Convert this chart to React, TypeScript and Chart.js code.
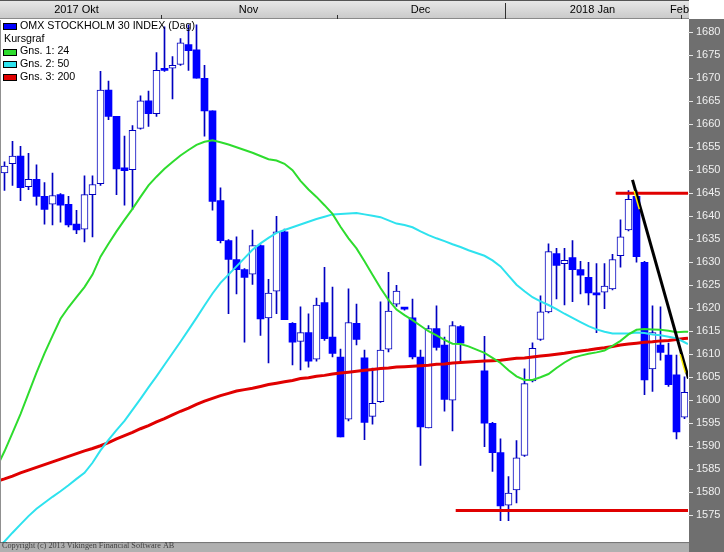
import React, { useEffect, useRef } from "react";
import { Chart, registerables } from "chart.js";

Chart.register(...registerables);

// ---- Data ----
const monthLabels = ["2017 Okt", "Nov", "Dec", "2018 Jan", "Feb"];
const monthBounds = [-1.5, 19.5, 41.5, 62.5, 84.5, 85.5];
const yearBoundary = 62.5;

const opens: (number | null)[] = [
  1649.4, 1651.4, 1653.1, 1646.4, 1648.0, 1644.3, 1642.6, 1644.7, 1642.6, 1638.3,
  1637.2, 1644.7, 1647.1, 1667.4, 1661.7, 1650.5, 1650.1, 1659.1, 1665.1, 1662.3,
  1671.9, 1672.2, 1673.0, 1677.3, 1676.2, 1670.0, 1662.9, 1643.4, 1634.7, 1630.6,
  1628.4, 1627.4, 1633.6, 1617.9, 1623.7, 1636.6, 1616.7, 1612.8, 1614.7, 1608.9,
  1621.2, 1613.7, 1609.4, 1595.9, 1616.7, 1609.2, 1596.5, 1599.7, 1611.1, 1620.9,
  1619.9, 1617.9, 1609.4, 1594.0, 1615.6, 1612.0, 1600.0, 1616.0, null, null,
  1606.4, 1595.0, 1588.6, 1577.2, 1580.5, 1588.0, 1604.2, 1613.2, 1619.2, 1631.9,
  1629.7, 1631.0, 1628.4, 1626.7, 1623.0, 1623.5, 1624.2, 1631.4, 1637.0, 1644.3,
  1630.0, 1606.8, 1612.0, 1609.8, 1605.5, 1596.3,
];
const highs: (number | null)[] = [
  1651.8, 1656.3, 1655.2, 1653.7, 1651.2, 1647.3, 1649.4, 1644.9, 1644.3, 1641.3,
  1648.8, 1648.8, 1671.5, 1669.4, 1661.7, 1657.4, 1659.7, 1666.2, 1667.2, 1675.6,
  1681.2, 1674.7, 1678.6, 1681.6, 1681.6, 1672.8, 1662.9, 1646.2, 1634.9, 1635.5,
  1628.6, 1637.0, 1633.8, 1626.3, 1640.0, 1637.2, 1616.9, 1620.3, 1618.8, 1622.2,
  1628.9, 1624.6, 1611.1, 1624.2, 1620.9, 1610.9, 1607.0, 1621.4, 1627.8, 1625.0,
  1620.1, 1622.0, 1610.9, 1616.2, 1620.5, 1613.7, 1617.1, 1616.2, null, null,
  1613.9, 1595.2, 1591.6, 1583.4, 1591.2, 1606.8, 1612.5, 1622.7, 1634.0, 1633.0,
  1633.0, 1634.7, 1630.2, 1630.0, 1629.7, 1629.7, 1631.7, 1639.2, 1645.6, 1645.6,
  1630.2, 1620.5, 1620.3, 1612.4, 1609.8, 1605.1,
];
const lows: (number | null)[] = [
  1645.6, 1646.7, 1643.4, 1645.8, 1642.4, 1638.3, 1638.1, 1638.7, 1637.7, 1636.2,
  1634.4, 1635.5, 1646.7, 1661.0, 1644.7, 1642.4, 1641.5, 1658.9, 1659.5, 1661.7,
  1671.5, 1665.5, 1672.8, 1671.7, 1670.0, 1657.4, 1641.3, 1634.2, 1618.8, 1623.1,
  1612.6, 1625.2, 1614.1, 1608.1, 1618.8, 1617.5, 1607.7, 1606.6, 1607.2, 1608.5,
  1613.0, 1609.4, 1592.0, 1595.5, 1612.0, 1591.4, 1594.8, 1599.5, 1610.5, 1620.4,
  1619.6, 1609.0, 1585.8, 1594.0, 1610.9, 1597.6, 1593.3, 1608.3, null, null,
  1589.9, 1584.5, 1573.8, 1573.8, 1577.7, 1587.8, 1604.0, 1613.0, 1619.0, 1622.0,
  1620.7, 1621.4, 1623.1, 1620.7, 1614.7, 1619.9, 1624.0, 1628.9, 1636.8, 1630.0,
  1601.2, 1601.9, 1608.7, 1603.0, 1591.6, 1596.0,
];
const closes: (number | null)[] = [
  1650.9, 1653.1, 1646.2, 1648.0, 1644.3, 1641.5, 1644.5, 1642.4, 1638.1, 1637.0,
  1644.7, 1646.9, 1667.4, 1661.7, 1650.3, 1649.9, 1658.7, 1665.1, 1662.3, 1671.7,
  1671.7, 1672.8, 1677.7, 1676.0, 1670.0, 1662.9, 1643.2, 1634.7, 1630.6, 1628.4,
  1626.7, 1633.6, 1617.7, 1623.3, 1636.6, 1617.5, 1612.6, 1614.7, 1608.5, 1620.7,
  1613.4, 1610.2, 1592.0, 1616.9, 1613.2, 1595.2, 1599.3, 1610.9, 1619.4, 1623.7,
  1619.8, 1609.4, 1594.2, 1615.6, 1611.5, 1600.2, 1616.2, 1612.4, null, null,
  1595.0, 1588.6, 1577.0, 1579.8, 1587.5, 1603.6, 1611.3, 1619.2, 1632.3, 1629.3,
  1630.4, 1628.4, 1627.2, 1623.3, 1622.9, 1624.8, 1630.6, 1635.5, 1643.7, 1631.2,
  1604.4, 1614.7, 1610.4, 1603.4, 1593.1, 1601.7,
];

// Moving averages (Gns. 1: 24, Gns. 2: 50, Gns. 3: 200)
const ma24 = [
  1588.9, 1592.9, 1597.0, 1601.5, 1606.0, 1610.2, 1614.0, 1617.7, 1620.2, 1622.4,
  1624.6, 1627.3, 1631.2, 1634.0, 1636.7, 1639.2, 1641.6, 1644.2, 1646.7, 1648.6,
  1650.3, 1651.8, 1653.2, 1654.4, 1655.5, 1656.2, 1656.5, 1656.1, 1655.6, 1655.0,
  1654.4, 1653.8, 1653.1, 1652.4, 1652.1, 1651.4, 1650.0, 1647.7, 1645.8, 1644.2,
  1642.4, 1640.5, 1637.7, 1635.2, 1633.0, 1630.2, 1627.3, 1624.4, 1621.8, 1619.7,
  1618.5, 1617.4, 1616.2, 1615.0, 1614.1, 1613.1, 1612.3, 1612.2, 1611.7, 1611.0,
  1610.3, 1609.2, 1608.1, 1606.5, 1605.2, 1604.4, 1604.4, 1605.0, 1605.7, 1607.0,
  1608.2, 1609.2, 1609.7, 1610.1, 1610.4, 1610.8, 1611.8, 1612.9, 1614.3, 1615.3,
  1615.5, 1615.4, 1615.3, 1615.1, 1614.8, 1614.9,
];
const ma50 = [
  1569.3, 1571.2, 1573.0, 1574.8, 1576.4, 1577.7, 1579.0, 1580.2, 1581.5, 1582.9,
  1584.2, 1586.4, 1589.1, 1591.4, 1593.5, 1595.5, 1597.9, 1600.3, 1602.8, 1605.2,
  1607.7, 1610.2, 1612.7, 1615.3, 1617.9, 1620.6, 1623.2, 1625.5, 1627.3, 1629.1,
  1630.9, 1632.7, 1634.1, 1635.3, 1636.4, 1637.0, 1637.6, 1638.2, 1638.8, 1639.4,
  1639.9, 1640.4, 1640.5, 1640.6, 1640.7, 1640.4, 1640.1, 1639.8, 1639.1, 1638.4,
  1638.1, 1637.6, 1636.7, 1635.9, 1635.2, 1634.6, 1633.9, 1633.3, 1632.6, 1632.0,
  1631.4, 1630.4, 1629.1, 1627.1, 1625.1, 1623.7, 1622.4, 1621.5, 1620.7, 1619.8,
  1618.8, 1617.9, 1617.0, 1616.1, 1615.4, 1614.9, 1614.5, 1614.5, 1614.5, 1614.7,
  1614.6, 1614.3, 1614.1, 1613.8, 1613.5, 1612.6,
];
const ma200 = [
  1582.9, 1583.5, 1584.2, 1584.8, 1585.4, 1586.0, 1586.6, 1587.2, 1587.8, 1588.4,
  1589.0, 1589.5, 1590.1, 1590.8, 1591.6, 1592.3, 1593.0, 1593.8, 1594.5, 1595.3,
  1596.0, 1596.8, 1597.6, 1598.3, 1599.1, 1599.8, 1600.4, 1601.0, 1601.5, 1602.0,
  1602.3, 1602.6, 1603.0, 1603.4, 1603.7, 1604.0, 1604.3, 1604.7, 1604.9, 1605.2,
  1605.4, 1605.7, 1605.9, 1606.1, 1606.3, 1606.5, 1606.7, 1606.9, 1607.0, 1607.2,
  1607.3, 1607.4, 1607.5, 1607.6, 1607.8, 1607.9, 1608.1, 1608.2, 1608.3, 1608.4,
  1608.5, 1608.6, 1608.7, 1608.9, 1609.1, 1609.2, 1609.4, 1609.6, 1609.8, 1610.0,
  1610.2, 1610.5, 1610.7, 1610.9, 1611.2, 1611.4, 1611.7, 1612.0, 1612.2, 1612.4,
  1612.6, 1612.7, 1612.9, 1613.0, 1613.2, 1613.4,
];
// values read at the left and right plot edges
const maLeftEdge = [1586.9, 1568.5, 1582.6];
const maRightEdge = [1614.9, 1612.2, 1613.5];

const yTickValues = [
  1575, 1580, 1585, 1590, 1595, 1600, 1605, 1610, 1615, 1620, 1625, 1630,
  1635, 1640, 1645, 1650, 1655, 1660, 1665, 1670, 1675, 1680,
];

// Drawn annotations
const resistanceLevel = 1645;
const resistanceFrom = 76.4;
const supportLevel = 1576;
const supportFrom = 56.4;
const trendFrom = [78.5, 1647.9];
const trendTo = [85.5, 1604.7];
// yellow highlight marks along the trend line
const trendGlowA = [[78.7, 1645.5], [79.35, 1641.5]];
const trendGlowB = [[84.45, 1610.0], [85.1, 1606.0]];

const legendLabels = ["OMX STOCKHOLM 30 INDEX (Dag)", "Kursgraf", "Gns. 1: 24", "Gns. 2: 50", "Gns. 3: 200"];
const copyrightText = "Copyright (c) 2013 Vikingen Financial Software AB";

// ---- Styling ----
const X_MIN = -0.5625;
const X_MAX = 85.4375;
const Y_MIN = 1569.09;
const Y_MAX = 1682.66;
const BLUE = "#0000ff";
const WICK = "#0000c0";
const GREEN = "#2edc2e";
const CYAN = "#2ee2ee";
const RED = "#e00000";
const legendColors = [BLUE, null, GREEN, CYAN, RED];
const FONT = 'Arial, "Liberation Sans", sans-serif';

export default function App() {
  const ref = useRef<HTMLCanvasElement>(null);

  useEffect(() => {
    document.body.style.margin = "0";
    const canvas = ref.current!;
    const idx = opens.map((_, i) => i).filter((i) => opens[i] !== null);
    const wickData = idx.map((i) => ({ x: i, y: [lows[i] as number, highs[i] as number] }));
    const bodyData = idx.map((i) => ({ x: i, y: [opens[i] as number, closes[i] as number] }));
    const bull = idx.map((i) => (closes[i] as number) > (opens[i] as number));

    const maPts = (arr: number[], k: number) => [
      { x: X_MIN, y: maLeftEdge[k] },
      ...arr.map((v, i) => ({ x: i, y: v })),
      { x: X_MAX, y: maRightEdge[k] },
    ];
    const seg = (p: number[][]) => p.map((q) => ({ x: q[0], y: q[1] }));

    const bgPlugin = {
      id: "bg",
      beforeDraw(chart: any) {
        const { ctx, chartArea, width, height } = chart;
        const xs = chart.scales.x;
        ctx.save();
        ctx.fillStyle = "#ffffff";
        ctx.fillRect(0, 0, width, height);
        // right axis panel
        ctx.fillStyle = "#6f6f6f";
        ctx.fillRect(chartArea.right + 1, chartArea.top - 1, width - chartArea.right, height);
        // header
        const hb = chartArea.top - 1;
        const hr = chartArea.right + 1;
        const g = ctx.createLinearGradient(0, 0, 0, hb);
        g.addColorStop(0, "#e9e9e9");
        g.addColorStop(1, "#c9c9c9");
        ctx.fillStyle = g;
        ctx.fillRect(0, 0, hr, hb);
        ctx.fillStyle = "#555555";
        ctx.fillRect(0, 0, hr, 1);
        ctx.fillStyle = "#8a8a8a";
        ctx.fillRect(0, hb - 1, hr, 1);
        ctx.beginPath();
        ctx.rect(0, 0, hr, hb);
        ctx.clip();
        ctx.font = "11px " + FONT;
        ctx.textAlign = "center";
        ctx.textBaseline = "middle";
        ctx.fillStyle = "#000000";
        for (let m = 0; m < monthLabels.length; m++) {
          const a = Math.max(xs.getPixelForValue(monthBounds[m]), xs.left - 8);
          const b = Math.min(xs.getPixelForValue(monthBounds[m + 1]), xs.right);
          const w = ctx.measureText(monthLabels[m]).width;
          const cx = Math.min((a + b) / 2, hr - w / 2);
          ctx.fillText(monthLabels[m], cx, 9.5);
          if (m > 0) {
            const px = Math.round(xs.getPixelForValue(monthBounds[m])) + 0.5;
            ctx.strokeStyle = "#303030";
            ctx.lineWidth = 1;
            ctx.beginPath();
            const top = monthBounds[m] === yearBoundary ? 3 : hb - 4;
            ctx.moveTo(px, top);
            ctx.lineTo(px, hb);
            ctx.stroke();
          }
        }
        ctx.restore();
      },
      afterDraw(chart: any) {
        const { ctx, chartArea, height } = chart;
        ctx.save();
        // plot borders
        ctx.fillStyle = "#909090";
        ctx.fillRect(0, chartArea.top, 1, chartArea.bottom - chartArea.top);
        ctx.fillStyle = "#202020";
        ctx.fillRect(0, chartArea.bottom, chartArea.right + 1, 1);
        ctx.fillStyle = "#b0b0b0";
        ctx.fillRect(0, chartArea.bottom + 1, chartArea.right + 1, height - chartArea.bottom - 1);
        // legend
        ctx.font = "10.7px " + FONT;
        ctx.textAlign = "left";
        ctx.textBaseline = "middle";
        legendLabels.forEach((label, k) => {
          const y = 26 + k * 12.75;
          const c = legendColors[k];
          if (c) {
            ctx.fillStyle = c;
            ctx.fillRect(3, Math.round(y) - 3, 14, 7);
            ctx.strokeStyle = "#000000";
            ctx.lineWidth = 1;
            ctx.strokeRect(3.5, Math.round(y) - 2.5, 13, 6);
            ctx.fillStyle = "#000000";
            ctx.fillText(label, 20, y);
          } else {
            ctx.fillStyle = "#000000";
            ctx.fillText(label, 4, y);
          }
        });
        // copyright
        ctx.font = '8.2px "Liberation Serif", "Times New Roman", serif';
        ctx.fillStyle = "#404040";
        ctx.textBaseline = "alphabetic";
        ctx.fillText(copyrightText, 2, 548);
        ctx.restore();
      },
    };

    const chart = new Chart(canvas, {
      type: "bar",
      data: {
        datasets: [
          {
            type: "line",
            data: seg(trendGlowA),
            borderColor: "#ffee00",
            borderWidth: 1.5,
            pointRadius: 0,
            order: -1,
          } as any,
          {
            type: "line",
            data: seg(trendGlowB),
            borderColor: "#ffee00",
            borderWidth: 1.5,
            pointRadius: 0,
            order: -1,
          } as any,
          {
            type: "line",
            data: [{ x: trendFrom[0], y: trendFrom[1] }, { x: trendTo[0], y: trendTo[1] }],
            borderColor: "#000000",
            borderWidth: 3,
            pointRadius: 0,
            order: 0,
          } as any,
          {
            type: "line",
            data: [{ x: resistanceFrom, y: resistanceLevel }, { x: X_MAX, y: resistanceLevel }],
            borderColor: RED,
            borderWidth: 3,
            pointRadius: 0,
            order: 1,
          } as any,
          {
            type: "line",
            data: [{ x: supportFrom, y: supportLevel }, { x: X_MAX, y: supportLevel }],
            borderColor: RED,
            borderWidth: 3,
            pointRadius: 0,
            order: 1,
          } as any,
          {
            type: "line",
            data: maPts(ma24, 0),
            borderColor: GREEN,
            borderWidth: 2,
            pointRadius: 0,
            order: 2,
          } as any,
          {
            type: "line",
            data: maPts(ma50, 1),
            borderColor: CYAN,
            borderWidth: 2,
            pointRadius: 0,
            order: 3,
          } as any,
          {
            type: "line",
            data: maPts(ma200, 2),
            borderColor: RED,
            borderWidth: 3,
            pointRadius: 0,
            order: 4,
          } as any,
          {
            type: "bar",
            data: bodyData,
            backgroundColor: bull.map((b) => (b ? "#ffffff" : BLUE)),
            borderColor: bull.map((b) => (b ? "#0000c0" : BLUE)),
            borderWidth: bull.map((b) => (b ? 1 : 0)),
            borderSkipped: false,
            grouped: false,
            categoryPercentage: 1,
            barPercentage: 1,
            maxBarThickness: 7,
            minBarLength: 2,
            order: 8,
          } as any,
          {
            type: "bar",
            data: wickData,
            backgroundColor: WICK,
            borderWidth: 0,
            grouped: false,
            categoryPercentage: 1,
            barPercentage: 1,
            maxBarThickness: 1,
            order: 9,
          } as any,
        ],
      },
      options: {
        animation: false,
        responsive: false,
        maintainAspectRatio: false,
        events: [],
        layout: { padding: { top: 20, bottom: 2, left: 0, right: 0 } },
        plugins: { legend: { display: false }, tooltip: { enabled: false } },
        scales: {
          x: {
            type: "linear",
            display: false,
            min: X_MIN,
            max: X_MAX,
            offset: false,
          },
          y: {
            position: "right",
            min: Y_MIN,
            max: Y_MAX,
            afterFit(s: any) {
              s.width = 36;
            },
            afterBuildTicks(s: any) {
              s.ticks = yTickValues.map((v) => ({ value: v }));
            },
            grid: {
              drawOnChartArea: false,
              drawTicks: true,
              tickLength: 5,
              color: "#e6e6e6",
            },
            border: { display: false },
            ticks: {
              color: "#f0f0f0",
              font: { family: FONT, size: 11 },
              padding: 3,
              autoSkip: false,
              callback: (v: any) => String(v),
            },
          },
        },
      } as any,
      plugins: [bgPlugin],
    });
    return () => chart.destroy();
  }, []);

  return (
    <div style={{ position: "fixed", left: 0, top: 0, width: 724, height: 552 }}>
      <canvas ref={ref} width={724} height={552} style={{ display: "block", width: 724, height: 552 }} />
    </div>
  );
}
